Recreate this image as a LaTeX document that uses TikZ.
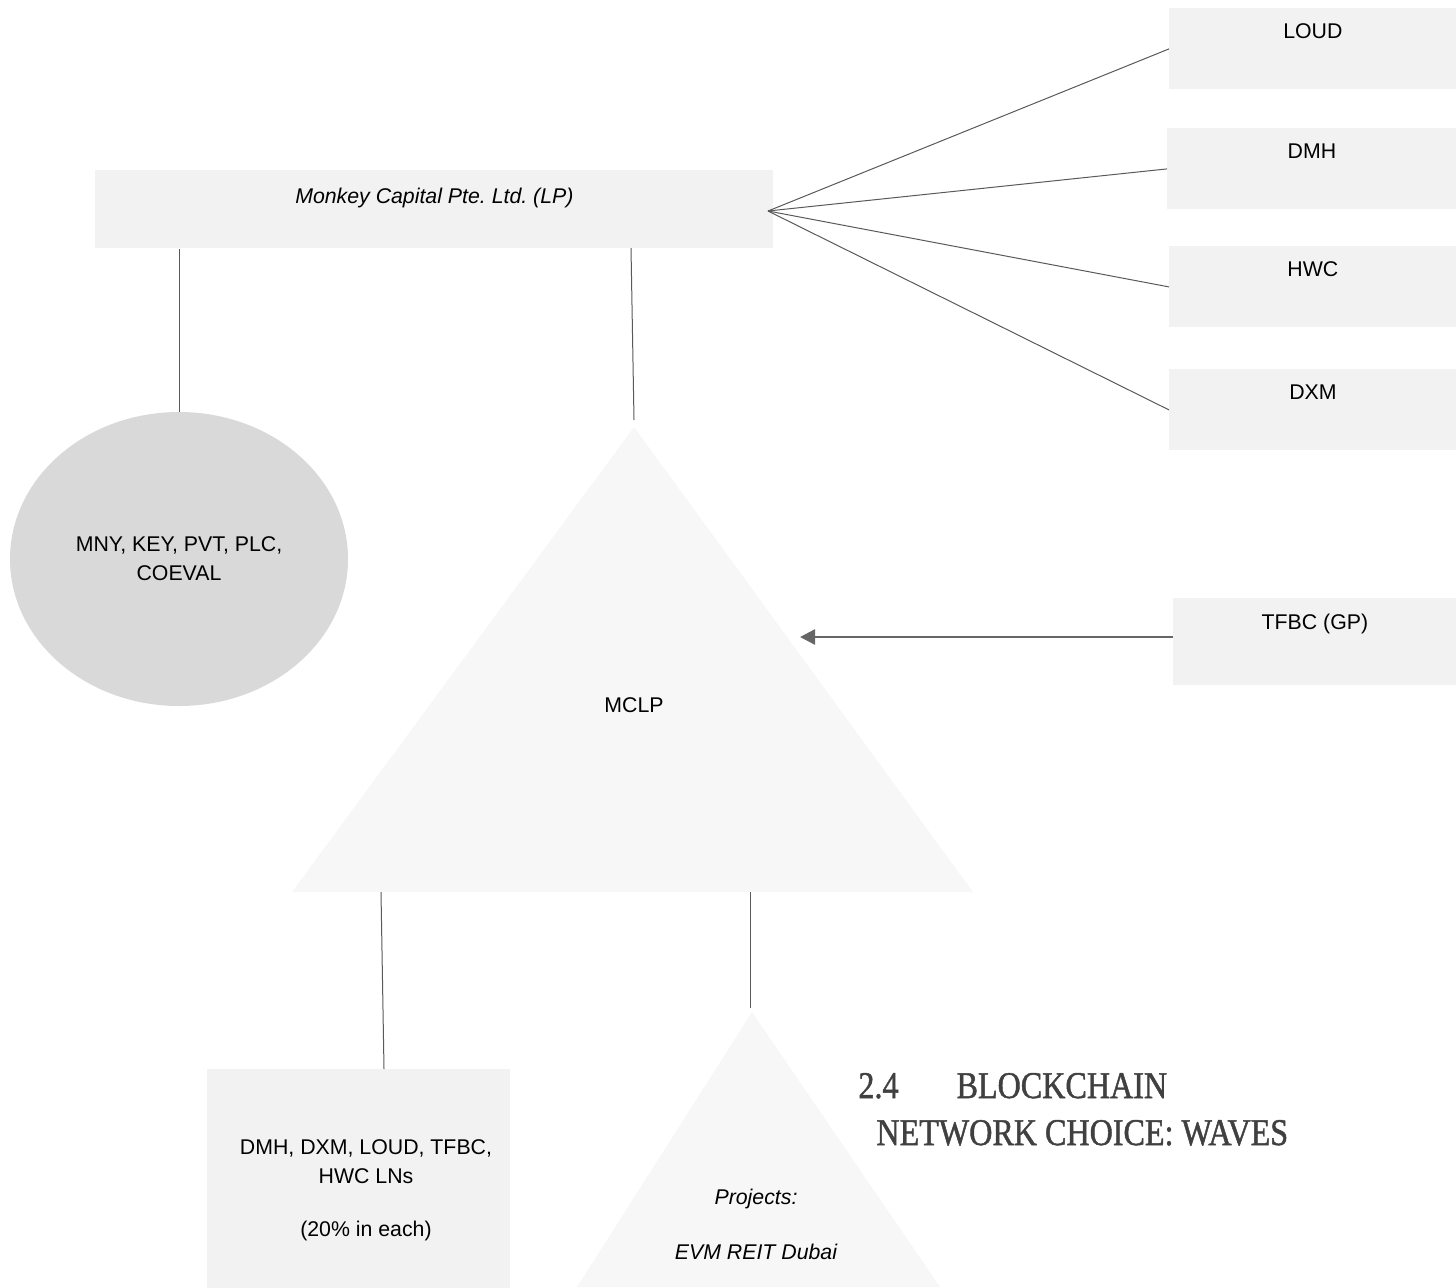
\documentclass[tikz,border=0pt]{standalone}
\usepackage{fontspec}
\usepackage{xcolor}
\usepackage{tikz}
\usetikzlibrary{shapes.geometric, arrows.meta, positioning, calc}
\setmainfont{Liberation Sans}
\newfontfamily\headfont[FakeStretch=0.85, FakeBold=1.2]{Liberation Serif}
\frenchspacing
\definecolor{boxFill}{HTML}{F2F2F2}
\definecolor{tokenFill}{HTML}{D9D9D9}
\definecolor{fundFill}{HTML}{F7F7F7}
\definecolor{linkGray}{HTML}{595959}
\definecolor{arrowGray}{HTML}{666666}
\definecolor{headGray}{HTML}{404040}

\begin{document}
\begin{tikzpicture}[
    x=0.5pt, y=-0.5pt,
    entity/.style={
        rectangle,
        fill=boxFill,
        anchor=north west,
        inner sep=0pt,
        minimum width=#1,
        text height=15pt,
        text depth=25.5pt,
        font=\fontsize{10.65}{14.5}\selectfont
    },
    token/.style={
        ellipse,
        fill=tokenFill,
        inner sep=0pt,
        minimum width=169pt,
        minimum height=147pt,
        align=center,
        font=\fontsize{10.65}{14.5}\selectfont
    },
    label/.style={align=center, font=\fontsize{10.65}{14.5}\selectfont},
    heading/.style={anchor=base west, text=headGray, inner sep=0pt,
        font=\headfont\fontsize{18.9}{23.5}\selectfont},
    link/.style={draw=linkGray, line width=0.5pt},
    flow/.style={-{Triangle[length=7.5pt,width=7.5pt]}, draw=arrowGray, line width=1.25pt}
]
    \useasboundingbox (0,0) rectangle (1456,1287);

    % Fund triangles
    \coordinate (mclpTop) at (634,427);
    \fill[fundFill] (mclpTop) -- (292,892) -- (973,892) -- cycle;
    \coordinate (projTop) at (752,1012);
    \fill[fundFill] (projTop) -- (577,1287) -- (940,1287) -- cycle;

    % General partner
    \node[entity=339pt, text height=16.3pt, text depth=22.7pt, font=\fontsize{10.65}{14.5}\selectfont\itshape]
        (monkey) at (95,170) {Monkey Capital Pte. Ltd. (LP)};

    % Portfolio column
    \node[entity=143.5pt] (loud) at (1169,8) {LOUD};
    \node[entity=144.5pt] (dmh) at (1167,128) {DMH};
    \node[entity=143.5pt] (hwc) at (1169,246) {HWC};
    \node[entity=143.5pt] (dxm) at (1169,369) {DXM};
    \node[entity=141.5pt, text height=15.5pt, text depth=28pt] (tfbc) at (1173,598) {TFBC (GP)};

    % Tokens
    \node[token] (tokens) at (179,559) {MNY, KEY, PVT, PLC,\\COEVAL};

    % Fund and holdings
    \node[label] (mclp) at (634,705) {MCLP};
    \node[rectangle, fill=boxFill, anchor=north west, minimum width=151.5pt,
          minimum height=121pt, inner sep=0pt] (lns) at (207,1069) {};
    \node[label] (lnsText) at (366,1190) {DMH, DXM, LOUD, TFBC,\\HWC LNs\\[12pt](20\% in each)};
    \node[label, font=\fontsize{10.65}{14.5}\selectfont\itshape] (projects) at (756,1224)
        {Projects:\\[13pt]EVM REIT Dubai};

    % Section heading
    \node[heading] (headA) at (858,1098) {2.4\hspace{29pt}BLOCKCHAIN};
    \node[heading] (headB) at (876,1145) {NETWORK CHOICE: WAVES};

    % Connections
    \coordinate (fan) at (768,211);
    \foreach \n in {loud, dmh, hwc, dxm} {
        \draw[link] (fan) -- (\n.west);
    }
    \draw[link] (monkey.south -| tokens.north) -- (tokens.north);
    \coordinate (mclpLeg) at (631,248);
    \draw[link] (mclpLeg) -- ($(mclpTop)+(0,-7)$);
    \coordinate (lnsLeg) at (381,892);
    \draw[link] (lnsLeg) -- (lns.north -| 384,0);
    \coordinate (projLeg) at (750,892);
    \draw[link] (projLeg) -- ($(projTop)+(-2,-4)$);
    \coordinate (gpTip) at (800,637);
    \draw[flow] (tfbc.west |- gpTip) -- (gpTip);

\end{tikzpicture}
\end{document}
